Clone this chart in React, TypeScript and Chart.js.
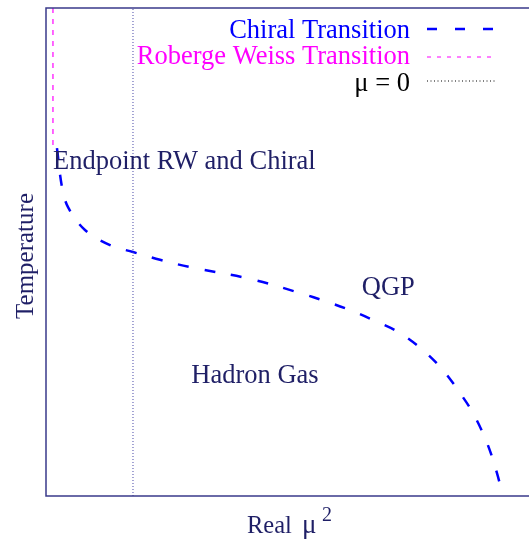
import React, { useEffect, useRef } from "react";
import { Chart, registerables } from "chart.js";

Chart.register(...registerables);

// Chiral transition curve (x = Real mu^2 in arbitrary units, y = temperature)
const chiralX = [-0.874, -0.816, -0.747, -0.552, -0.264, 0, 0.31, 0.655, 1.345, 1.92, 2.23, 2.494, 2.805, 3.069, 3.333, 3.563, 3.759, 3.908, 4.069, 4.184, 4.25];
const chiralY = [0.713, 0.633, 0.592, 0.545, 0.514, 0.5, 0.484, 0.469, 0.445, 0.416, 0.398, 0.381, 0.357, 0.334, 0.299, 0.258, 0.211, 0.17, 0.109, 0.047, 0];

// Roberge-Weiss transition line
const rwX = [-0.92, -0.92];
const rwY = [1.0, 0.713];

// mu = 0 line
const muZeroX = [0, 0];
const muZeroY = [0, 1];

const xMin = -1;
const xMax = 4.552;
const yMin = 0;
const yMax = 1;

const legendLabels = ["Chiral Transition", "Roberge Weiss Transition", "\u03bc = 0"];
const annotations = [
  { text: "Endpoint RW and Chiral", x: -0.92, y: 0.67 },
  { text: "QGP", x: 2.63, y: 0.412 },
  { text: "Hadron Gas", x: 0.67, y: 0.232 },
];

const SERIF = '"Liberation Serif", "Times New Roman", serif';
const TEXT = "#1f1f66";
const AXIS = "#3a3a8a";

const decorPlugin = {
  id: "decor",
  afterDatasetsDraw(chart: any) {
    const { ctx, chartArea: a, scales } = chart;
    const xs = scales.x;
    const ys = scales.y;
    ctx.save();
    // frame: left, top, bottom
    ctx.strokeStyle = AXIS;
    ctx.lineWidth = 1.5;
    ctx.setLineDash([]);
    ctx.beginPath();
    ctx.moveTo(a.right + 5, a.top);
    ctx.lineTo(a.left, a.top);
    ctx.lineTo(a.left, a.bottom);
    ctx.lineTo(a.right + 5, a.bottom);
    ctx.stroke();

    // annotations
    ctx.fillStyle = TEXT;
    ctx.font = `26.5px ${SERIF}`;
    ctx.textAlign = "left";
    ctx.textBaseline = "alphabetic";
    annotations.forEach((t) => {
      ctx.fillText(t.text, xs.getPixelForValue(t.x), ys.getPixelForValue(t.y));
    });

    // legend
    const colors = ["#0000ff", "#ff00ff", "#000000"];
    const dashes = [[10, 18], [4, 6], [1, 2.5]];
    const widths = [2.5, 1.2, 1];
    const baselines = [38, 64, 91];
    const sampleY = [29, 57, 81];
    ctx.textAlign = "right";
    legendLabels.forEach((lab, i) => {
      ctx.fillStyle = colors[i];
      ctx.font = `26.5px ${SERIF}`;
      ctx.fillText(lab, 410, baselines[i]);
      ctx.strokeStyle = colors[i];
      ctx.lineWidth = widths[i];
      ctx.setLineDash(dashes[i]);
      ctx.beginPath();
      ctx.moveTo(427, sampleY[i]);
      ctx.lineTo(497, sampleY[i]);
      ctx.stroke();
    });
    ctx.setLineDash([]);

    // axis titles
    ctx.fillStyle = TEXT;
    ctx.font = `25px ${SERIF}`;
    ctx.textAlign = "center";
    ctx.save();
    ctx.translate(33, (a.top + a.bottom) / 2 + 4);
    ctx.rotate(-Math.PI / 2);
    ctx.fillText("Temperature", 0, 0);
    ctx.restore();

    ctx.textAlign = "left";
    ctx.font = `24.5px ${SERIF}`;
    ctx.fillText("Real", 247, 533);
    ctx.font = `27px ${SERIF}`;
    ctx.fillText("\u03bc", 302, 533);
    ctx.font = `20px ${SERIF}`;
    ctx.fillText("2", 322, 521);
    ctx.restore();
  },
};

export default function App() {
  const ref = useRef<HTMLCanvasElement | null>(null);
  useEffect(() => {
    if (!ref.current) return;
    const chart = new Chart(ref.current, {
      type: "line",
      data: {
        datasets: [
          {
            label: "\u03bc = 0",
            data: muZeroX.map((x, i) => ({ x, y: muZeroY[i] })),
            borderColor: "#4848a8",
            borderWidth: 1,
            borderDash: [1, 2],
            pointRadius: 0,
            fill: false,
          },
          {
            label: "Roberge Weiss Transition",
            data: rwX.map((x, i) => ({ x, y: rwY[i] })),
            borderColor: "#ff00ff",
            borderWidth: 1.2,
            borderDash: [5, 6],
            pointRadius: 0,
            fill: false,
          },
          {
            label: "Chiral Transition",
            data: chiralX.map((x, i) => ({ x, y: chiralY[i] })),
            borderColor: "#0000ff",
            borderWidth: 2.5,
            borderDash: [11, 16],
            pointRadius: 0,
            tension: 0.35,
            fill: false,
          },
        ],
      },
      options: {
        animation: false,
        responsive: false,
        maintainAspectRatio: false,
        layout: { padding: { left: 46, top: 8, right: 0, bottom: 46 } },
        plugins: { legend: { display: false }, tooltip: { enabled: false } },
        scales: {
          x: { type: "linear", min: xMin, max: xMax, display: false },
          y: { type: "linear", min: yMin, max: yMax, display: false },
        },
      },
      plugins: [decorPlugin],
    });
    return () => chart.destroy();
  }, []);
  return (
    <div style={{ position: "fixed", left: 0, top: 0, width: 529, height: 542, background: "#fff" }}>
      <canvas ref={ref} width={529} height={542} style={{ display: "block" }} />
    </div>
  );
}
